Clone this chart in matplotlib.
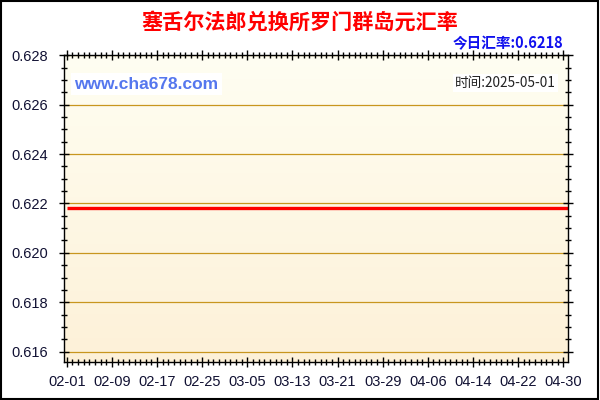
import matplotlib
matplotlib.use("Agg")
import matplotlib.pyplot as plt
import matplotlib.dates as mdates
from matplotlib.ticker import MultipleLocator, FixedLocator
from matplotlib.patches import Rectangle
import numpy as np
import pandas as pd

plt.rcParams['font.family'] = ['Liberation Sans', 'Noto Sans CJK SC', 'DejaVu Sans']

# data (flat rate for the whole period)
dates = pd.date_range("2025-02-01", "2025-05-01", freq="D")
rates = [0.6218] * len(dates)
tick_labels = ["02-01", "02-09", "02-17", "02-25", "03-05", "03-13",
               "03-21", "03-29", "04-06", "04-14", "04-22", "04-30"]
y_ticks = [0.616, 0.618, 0.620, 0.622, 0.624, 0.626, 0.628]

title = "塞舌尔法郎兑换所罗门群岛元汇率"
today_rate = "今日汇率:0.6218"
time_text = "时间:2025-05-01"
site = "www.cha678.com"

fig = plt.figure(figsize=(6, 4), dpi=100)
fig.patch.set_facecolor("white")
ax = fig.add_axes([0.1067, 0.095, 0.8395, 0.767])

x = mdates.date2num(dates)
x0 = x[0]
ax.set_xlim(x0 - 0.5, x0 + 88.8)
ax.set_ylim(0.61558, 0.628)

# background gradient, light cream at top to beige at bottom
grad = np.linspace(0, 1, 256).reshape(-1, 1)
c_top = np.array([255, 254, 242]) / 255
c_bot = np.array([253, 241, 216]) / 255
img = c_top + (c_bot - c_top) * grad[:, :, None] * np.ones((1, 1, 3))
ax.imshow(img, extent=[x0 - 0.5, x0 + 88.8, 0.61558, 0.628], aspect="auto",
          origin="upper", zorder=0)

for yv in y_ticks:
    ax.axhline(yv, color="#C8961E", lw=0.9, zorder=1)

ax.plot(x, rates, color="#FF0000", lw=2.4, zorder=3, solid_capstyle="butt")

# ticks
tick_pos = [mdates.date2num(pd.Timestamp("2025-" + t)) for t in tick_labels]
ax.xaxis.set_major_locator(FixedLocator(tick_pos))
ax.set_xticklabels(tick_labels)
ax.xaxis.set_minor_locator(MultipleLocator(1))
ax.set_yticks(y_ticks)
ax.set_yticklabels([f"{v:.3f}" for v in y_ticks])
ax.yaxis.set_minor_locator(MultipleLocator(0.0005))

ax.tick_params(axis="both", which="major", direction="inout", length=7, width=1,
               labelsize=10.5, colors="black", top=True, right=True)
ax.tick_params(axis="both", which="minor", direction="inout", length=4, width=1,
               top=True, right=True)
ax.tick_params(axis="x", which="major", pad=6)
ax.tick_params(axis="y", which="major", pad=8)
for lab in ax.get_xticklabels() + ax.get_yticklabels():
    lab.set_color("#111133")

for s in ax.spines.values():
    s.set_color("black")
    s.set_linewidth(1)
    s.set_zorder(4)

# texts
fig.text(0.5, 0.945, title, ha="center", va="center", fontsize=15.2,
         fontweight="bold", color="#FF0000", family=["Noto Sans CJK SC", "DejaVu Sans"])
fig.text(0.938, 0.893, today_rate, ha="right", va="center", fontsize=10.5,
         fontweight="bold", color="#1010EE", family=["Noto Sans CJK SC", "DejaVu Sans"])
ax.text(0.02, 0.906, site, transform=ax.transAxes, ha="left", va="center",
        fontsize=12.5, fontweight="bold", color="#5577EE",
        bbox=dict(facecolor="white", edgecolor="none", pad=2.5), zorder=5)
ax.text(0.976, 0.908, time_text, transform=ax.transAxes, ha="right", va="center",
        fontsize=9.8, color="#222222", family=["Noto Sans CJK SC", "DejaVu Sans"],
        bbox=dict(facecolor="white", edgecolor="none", pad=1.5), zorder=5)

# black frame around the whole picture
fig.patches.append(Rectangle((0.002, 0.003), 0.995, 0.994, transform=fig.transFigure,
                             fill=False, edgecolor="black", lw=1.5))

fig.savefig("out.png", dpi=100)
